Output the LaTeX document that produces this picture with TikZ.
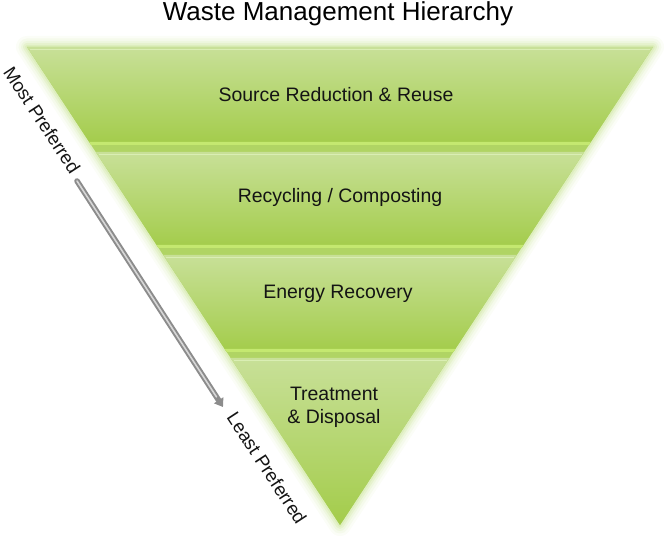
\documentclass[tikz,border=0pt]{standalone}
\usepackage{fontspec}
\setmainfont{Liberation Sans}
\usetikzlibrary{arrows.meta}
\definecolor{layertop}{RGB}{200,224,152}
\definecolor{layerbot}{RGB}{163,204,74}
\definecolor{basegreen}{RGB}{176,212,100}
\definecolor{brightedge}{RGB}{196,232,112}
\definecolor{toplight}{RGB}{218,238,180}
\definecolor{glowc}{RGB}{170,212,90}
\definecolor{txt}{RGB}{20,20,20}
\definecolor{arrowdark}{RGB}{140,140,140}
\definecolor{arrowlight}{RGB}{215,215,215}
\tikzset{
  layerfill/.style={top color=layertop, bottom color=layerbot, draw=none},
  brightband/.style={fill=brightedge, draw=none},
  toplineS/.style={draw=toplight, line width=1.2pt},
  layertext/.style={font=\fontsize{14.6pt}{17.5pt}\selectfont, text=txt, align=center},
  sidetext/.style={font=\fontsize{14pt}{17pt}\selectfont, text=txt, rotate=-56.8, inner sep=0pt},
  titletext/.style={font=\fontsize{19.5pt}{23pt}\selectfont, text=black},
}
\begin{document}
\begin{tikzpicture}[x=0.75pt,y=-0.75pt]
\useasboundingbox (0,0) rectangle (672,538);
% glow
\foreach \w/\o in {22/0.05,17/0.07,12/0.09,8/0.12,4/0.15}{
  \draw[glowc, line width={\w*0.75pt}, opacity=\o, line join=round] (27,47) -- (653,47) -- (340,525) -- cycle;
}
% base
\fill[basegreen] (27,47) -- (653,47) -- (340,525) -- cycle;
% layer 1
\shade[layerfill] (27,47) -- (653,47) -- (588.8,145) -- (91.2,145) -- cycle;
\fill[brightband] (89.2,142) -- (590.8,142) -- (588.8,145) -- (91.2,145) -- cycle;
\draw[toplineS] (30,49.5) -- (650,49.5);
% layer 2
\shade[layerfill] (95.8,152) -- (584.2,152) -- (521.4,248) -- (158.6,248) -- cycle;
\fill[brightband] (156.6,245) -- (523.4,245) -- (521.4,248) -- (158.6,248) -- cycle;
\draw[toplineS] (98.5,154.5) -- (581.5,154.5);
% layer 3
\shade[layerfill] (163.2,255) -- (516.8,255) -- (453.3,352) -- (226.7,352) -- cycle;
\fill[brightband] (224.7,349) -- (455.3,349) -- (453.3,352) -- (226.7,352) -- cycle;
\draw[toplineS] (166,257.5) -- (514,257.5);
% layer 4
\shade[layerfill] (230.6,358) -- (449.4,358) -- (340,525) -- cycle;
\draw[toplineS] (233.5,360.5) -- (446.5,360.5);
% title and labels
\node[titletext] (title) at (338,14) {Waste Management Hierarchy};
\node[layertext] (l1) at (336,95) {Source Reduction \& Reuse};
\node[layertext] (l2) at (340,197) {Recycling / Composting};
\node[layertext] (l3) at (338,294) {Energy Recovery};
\node[layertext] (l4) at (334,407) {Treatment\\\& Disposal};
\node[sidetext] (most) at (42,120) {Most Preferred};
\node[sidetext] (least) at (267,468) {Least Preferred};
% arrow
\coordinate (as) at (77,181);
\coordinate (ae) at (223,407);
\draw[arrowdark, line width=4.2pt, line cap=round, -{Triangle[width=8pt,length=6pt]}] (as) -- (ae);
\draw[arrowlight, line width=1.2pt, line cap=round, shorten >=9pt] (as) -- (ae);
\end{tikzpicture}
\end{document}
